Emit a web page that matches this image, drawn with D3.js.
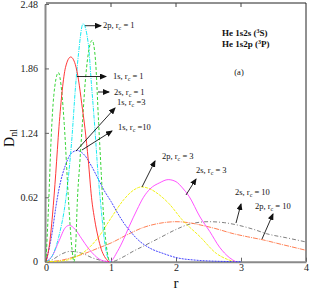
<!DOCTYPE html>
<html>
<head>
<meta charset="utf-8">
<script src="https://cdn.jsdelivr.net/npm/d3@7"></script>
<style>
  body { margin: 0; background: #fff; }
  svg { display: block; font-family: "Liberation Serif", "DejaVu Serif", serif; }
</style>
</head>
<body>
<svg id="chart" width="311" height="290"></svg>
<script>
// radial distribution D_nl(r)
const r1s1 = [0, 0.05, 0.1, 0.15, 0.2, 0.25, 0.3, 0.38, 0.45, 0.5, 0.55, 0.6, 0.65, 0.7, 0.75, 0.8, 0.85, 0.9, 0.97];
const d1s1 = [0, 0.15, 0.45, 0.85, 1.3, 1.65, 1.87, 1.97, 1.9, 1.75, 1.52, 1.28, 0.98, 0.62, 0.4, 0.24, 0.12, 0.05, 0];

const r2p1 = [0, 0.1, 0.2, 0.3, 0.4, 0.45, 0.5, 0.57, 0.65, 0.7, 0.75, 0.8, 0.85, 0.9, 0.95, 1.0];
const d2p1 = [0, 0.06, 0.25, 0.58, 1.2, 1.65, 2.0, 2.29, 2.1, 1.7, 1.3, 0.85, 0.5, 0.2, 0.04, 0];

const r2s1 = [0, 0.04, 0.08, 0.12, 0.19, 0.24, 0.28, 0.35, 0.4, 0.43, 0.46, 0.48, 0.52, 0.56, 0.6, 0.65, 0.71, 0.76, 0.81, 0.85, 0.875, 0.92, 0.97];
const d2s1 = [0, 0.55, 1.2, 1.6, 1.82, 1.65, 1.33, 0.55, 0.12, 0, 0.2, 0.55, 0.95, 1.33, 1.7, 2.0, 2.13, 1.95, 1.33, 0.85, 0.55, 0.2, 0];

const r1s3 = [0, 0.1, 0.15, 0.2, 0.3, 0.4, 0.48, 0.6, 0.7, 0.8, 0.9, 1.0, 1.1, 1.2, 1.3, 1.4, 1.6, 1.8, 2.0, 2.3, 2.6, 3.0];
const d1s3 = [0, 0.3, 0.52, 0.7, 0.93, 1.05, 1.07, 1.02, 0.92, 0.8, 0.68, 0.58, 0.47, 0.37, 0.29, 0.22, 0.13, 0.08, 0.04, 0.015, 0.005, 0];

const r2s3 = [0, 0.1, 0.2, 0.3, 0.36, 0.45, 0.55, 0.65, 0.75, 0.85, 0.98, 1.1, 1.19, 1.28, 1.4, 1.5, 1.6, 1.75, 1.88, 2.0, 2.1, 2.2, 2.37, 2.52, 2.67, 2.82, 2.92];
const d2s3 = [0, 0.06, 0.2, 0.33, 0.35, 0.31, 0.22, 0.13, 0.06, 0.015, 0, 0.1, 0.21, 0.34, 0.5, 0.62, 0.7, 0.76, 0.79, 0.77, 0.71, 0.63, 0.43, 0.29, 0.14, 0.04, 0];

const r2p3 = [0, 0.2, 0.4, 0.6, 0.8, 1.0, 1.2, 1.35, 1.47, 1.6, 1.75, 1.89, 2.1, 2.37, 2.62, 2.8, 2.9];
const d2p3 = [0, 0.005, 0.03, 0.1, 0.23, 0.42, 0.6, 0.69, 0.72, 0.7, 0.64, 0.56, 0.4, 0.24, 0.08, 0.02, 0];

const r2s10 = [0, 0.1, 0.2, 0.3, 0.38, 0.5, 0.6, 0.7, 0.8, 0.9, 1.0, 1.2, 1.34, 1.5, 1.75, 2.0, 2.2, 2.5, 2.75, 2.93, 3.2, 3.39, 3.7, 4.0];
const d2s10 = [0, 0.02, 0.06, 0.09, 0.1, 0.09, 0.07, 0.04, 0.02, 0.005, 0, 0.05, 0.1, 0.15, 0.23, 0.31, 0.36, 0.385, 0.375, 0.355, 0.31, 0.27, 0.23, 0.19];

const r2p10 = [0, 0.2, 0.4, 0.6, 0.8, 1.0, 1.25, 1.5, 1.75, 2.0, 2.2, 2.4, 2.6, 2.88, 3.1, 3.34, 3.6, 3.8, 4.0];
const d2p10 = [0, 0.01, 0.04, 0.08, 0.13, 0.18, 0.26, 0.33, 0.37, 0.385, 0.375, 0.35, 0.32, 0.27, 0.24, 0.21, 0.17, 0.14, 0.11];

const xTicks = [0, 1, 2, 3, 4];
const yTicks = [0, 0.62, 1.24, 1.86, 2.48];

const series = [
  { r: r2s10, d: d2s10, color: "#707070", dash: "4,2,1,2" },
  { r: r2p10, d: d2p10, color: "#ff7040", dash: "5,1,1,1" },
  { r: r2p3,  d: d2p3,  color: "#f0f000", dash: "3,1" },
  { r: r2s3,  d: d2s3,  color: "#ff40ff", dash: null },
  { r: r1s3,  d: d1s3,  color: "#3030ff", dash: "2,1" },
  { r: r2p1,  d: d2p1,  color: "#00e8f0", dash: "4,1,1,1" },
  { r: r2s1,  d: d2s1,  color: "#20d020", dash: "3,2" },
  { r: r1s1,  d: d1s1,  color: "#ff2020", dash: null }
];

// annotation arrows, in data units [r0, d0, r1, d1]
const arrows = [
  [0.60, 2.271, 0.846, 2.271],
  [0.477, 1.782, 0.923, 1.782],
  [0.80, 1.633, 0.969, 1.633],
  [0.462, 1.065, 1.062, 1.479],
  [0.554, 1.075, 1.015, 1.258],
  [1.477, 0.719, 1.677, 0.969],
  [2.154, 0.642, 2.308, 0.796],
  [2.923, 0.372, 3.0, 0.555],
  [3.323, 0.218, 3.492, 0.459]
];
const labels = [
  { orb: "2p", rc: " = 1",  r: 0.877, d: 2.245 },
  { orb: "1s", rc: " = 1",  r: 1.031, d: 1.758 },
  { orb: "2s", rc: " = 1",  r: 1.046, d: 1.604 },
  { orb: "1s", rc: " =3",   r: 1.092, d: 1.508 },
  { orb: "1s", rc: " =10",  r: 1.108, d: 1.267 },
  { orb: "2p", rc: " = 3",  r: 1.785, d: 0.988 },
  { orb: "2s", rc: " = 3",  r: 2.308, d: 0.854 },
  { orb: "2s", rc: " = 10", r: 2.908, d: 0.642 },
  { orb: "2p", rc: " = 10", r: 3.215, d: 0.507 }
];

const svg = d3.select("#chart");

const x = d3.scaleLinear().domain([0, 4]).range([46, 306]);
const y = d3.scaleLinear().domain([0, 2.48]).range([261.7, 4]);

// frame (top/right thin black)
svg.append("path")
  .attr("d", `M${x(0)},${y(2.48) - 1}H${x(4)}V${y(0)}`)
  .attr("fill", "none")
  .attr("stroke", "#222")
  .attr("stroke-width", 1);

// ticks on top, inside
svg.append("g")
  .selectAll("line")
  .data(xTicks.slice(1, 4))
  .join("line")
  .attr("x1", d => x(d)).attr("x2", d => x(d))
  .attr("y1", y(2.48) - 1).attr("y2", y(2.48) + 3)
  .attr("stroke", "#444");

// bottom axis
const xAxis = svg.append("g")
  .attr("transform", `translate(0,${y(0)})`)
  .call(d3.axisBottom(x).tickValues(xTicks).tickFormat(d3.format("d")).tickSizeInner(-4).tickSizeOuter(0).tickPadding(2));
xAxis.select(".domain").attr("stroke", "#8a8a8a").attr("stroke-width", 2);
xAxis.selectAll(".tick line").attr("stroke", "#666");
xAxis.selectAll("text").attr("font-size", 10).attr("font-family", "Liberation Serif").attr("fill", "#222");

// left axis
const yAxis = svg.append("g")
  .attr("transform", `translate(${x(0) - 1},0)`)
  .call(d3.axisLeft(y).tickValues(yTicks).tickFormat(d => d === 0 ? "0" : d.toFixed(2)).tickSizeInner(-4).tickSizeOuter(0).tickPadding(7));
yAxis.select(".domain").attr("stroke", "#8a8a8a").attr("stroke-width", 2);
yAxis.selectAll(".tick line").attr("stroke", "#666");
yAxis.selectAll("text").attr("font-size", 10).attr("font-family", "Liberation Serif").attr("fill", "#222");

// curves
const line = d3.line()
  .x(p => x(p[0]))
  .y(p => y(p[1]))
  .curve(d3.curveMonotoneX);

svg.append("g")
  .selectAll("path")
  .data(series)
  .join("path")
  .attr("d", s => line(s.r.map((v, i) => [v, s.d[i]])))
  .attr("fill", "none")
  .attr("stroke", s => s.color)
  .attr("stroke-width", 0.9)
  .attr("stroke-dasharray", s => s.dash);

// arrow marker
svg.append("defs").append("marker")
  .attr("id", "head")
  .attr("markerUnits", "userSpaceOnUse")
  .attr("markerWidth", 7).attr("markerHeight", 6)
  .attr("refX", 6).attr("refY", 3)
  .attr("orient", "auto")
  .append("path")
  .attr("d", "M0,0L7,3L0,6Z")
  .attr("fill", "#111");

svg.append("g")
  .selectAll("line")
  .data(arrows)
  .join("line")
  .attr("x1", a => x(a[0])).attr("y1", a => y(a[1]))
  .attr("x2", a => x(a[2])).attr("y2", a => y(a[3]))
  .attr("stroke", "#111")
  .attr("stroke-width", 0.9)
  .attr("marker-end", "url(#head)");

// curve labels: "1s, r_c = 1"
const lab = svg.append("g")
  .selectAll("text")
  .data(labels)
  .join("text")
  .attr("x", l => x(l.r))
  .attr("y", l => y(l.d))
  .attr("font-size", 8.5)
  .attr("fill", "#111");
lab.append("tspan").text(l => l.orb + ", r");
lab.append("tspan").attr("dy", 2).attr("font-size", 6).text("c");
lab.append("tspan").attr("dy", -2).text(l => l.rc);

// title block
const title = [["He 1s2s (", "S)"], ["He 1s2p (", "P)"]];
svg.append("g")
  .selectAll("text")
  .data(title)
  .join("text")
  .attr("x", 222)
  .attr("y", (t, i) => 36 + i * 11)
  .attr("font-size", 9)
  .attr("font-weight", "bold")
  .attr("fill", "#111")
  .each(function(t) {
    const el = d3.select(this);
    el.append("tspan").text(t[0]);
    el.append("tspan").attr("dy", -3.5).attr("font-size", 6).text("3");
    el.append("tspan").attr("dy", 3.5).text(t[1]);
  });

svg.append("text")
  .attr("x", 239)
  .attr("y", 74.5)
  .attr("text-anchor", "middle")
  .attr("font-size", 8.5)
  .attr("fill", "#111")
  .text("(a)");

// axis titles
svg.append("text")
  .attr("x", 176)
  .attr("y", 288)
  .attr("text-anchor", "middle")
  .attr("font-size", 15)
  .attr("fill", "#111")
  .text("r");

const yl = svg.append("text")
  .attr("transform", "translate(14,138) rotate(-90)")
  .attr("text-anchor", "middle")
  .attr("font-size", 14)
  .attr("fill", "#111");
yl.append("tspan").text("D");
yl.append("tspan").attr("dy", 3).attr("font-size", 10).text("nl");
</script>
</body>
</html>
